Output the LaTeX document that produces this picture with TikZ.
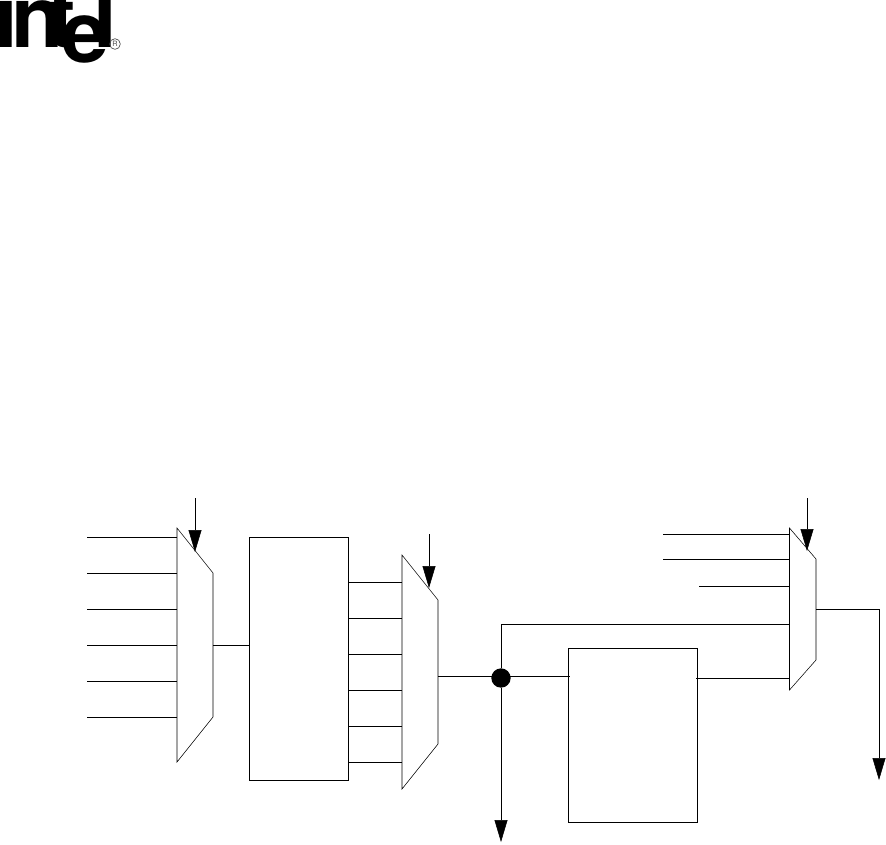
\documentclass[tikz,border=0pt]{standalone}
\usepackage{fontspec}
\setsansfont{TeX Gyre Heros}
\usetikzlibrary{
  arrows.meta
}
\tikzset{
  x=0.75pt, y=-0.75pt,
  line width=0.95pt,
  blockbox/.style={draw, inner sep=0pt},
  sel/.style={-{Triangle[length=16.5pt,width=9.75pt]}},
  logotext/.style={inner sep=0pt, anchor=base west, font=\sffamily\bfseries\fontsize{64}{64}\selectfont},
}

\begin{document}
\begin{tikzpicture}
      \useasboundingbox (0,0) rectangle (886,844);
      % logo
      \node (logoi) [logotext] at (-5.5,47) {i};
      \node (logon) [logotext] at (11,47) {n};
      \node (logot) [logotext] at (47.5,47) {t};
      \node (logoe) [logotext] at (61,62) {e};
      \node (logol) [logotext] at (93,47) {l};
      \node (logor) [inner sep=0pt, font=\sffamily\fontsize{5.5}{5.5}\selectfont, circle, draw=black!70, text=black!70, line width=0.5pt, minimum size=8pt] at (115,44) {R};

      % left mux
      \draw (177,528) -- (213,573) -- (213,717) -- (177,762) -- cycle;
      \foreach \n/\y in {1/537,2/573,3/609,4/645,5/681,6/717} {
        \coordinate (ina\n) at (87,\y);
        \coordinate (muxa\n) at (177,\y);
        \draw (ina\n) -- (muxa\n);
      }
      \coordinate (sela) at (195,498);
      \coordinate (selaend) at (195,552);
      \draw[sel] (sela) -- (selaend);

      % register block
      \node (regs) [blockbox, minimum width=74.25pt, minimum height=182.25pt] at (298.5,658.5) {};
      \coordinate (muxaout) at (213,645);
      \draw (muxaout) -- (muxaout -| regs.west);

      % middle mux
      \draw (402,555) -- (438,600) -- (438,744) -- (402,789) -- cycle;
      \foreach \n/\y in {1/582,2/618,3/654,4/690,5/726,6/762} {
        \coordinate (muxb\n) at (402,\y);
        \draw (muxb\n -| regs.east) -- (muxb\n);
      }
      \coordinate (selb) at (429,534);
      \coordinate (selbend) at (429,588);
      \draw[sel] (selb) -- (selbend);

      % junction and lower block
      \node (dot) [circle, fill=black, inner sep=0pt, minimum size=14.5pt] at (501,678) {};
      \node (latch) [blockbox, minimum width=96.75pt, minimum height=130.5pt] at (632.5,735) {};
      \coordinate (muxbout) at (438,676.5);
      \coordinate (latchin) at (569.5,676.5);
      \draw (muxbout) -- (latchin);
      \coordinate (dotend) at (501,842);
      \draw[sel] (dot) -- (dotend);

      % right mux
      \draw (789.5,528) -- (816,559) -- (816,660) -- (789.5,690) -- cycle;
      \foreach \n/\x/\y in {1/663/534,2/663/559,3/699/586} {
        \coordinate (inc\n) at (\x,\y);
        \coordinate (muxc\n) at (789.5,\y);
        \draw (inc\n) -- (muxc\n);
      }
      \coordinate (muxc4) at (789.5,624);
      \draw (dot) |- (muxc4);
      \coordinate (latchout) at (696,678);
      \coordinate (muxc5) at (789.5,678);
      \draw (latchout) -- (muxc5);
      \coordinate (selc) at (807,498);
      \coordinate (selcend) at (807,551);
      \draw[sel] (selc) -- (selcend);
      \coordinate (muxcout) at (816,609);
      \coordinate (outend) at (879,780);
      \draw[sel] (muxcout) -| (outend);
    \end{tikzpicture}
\end{document}
